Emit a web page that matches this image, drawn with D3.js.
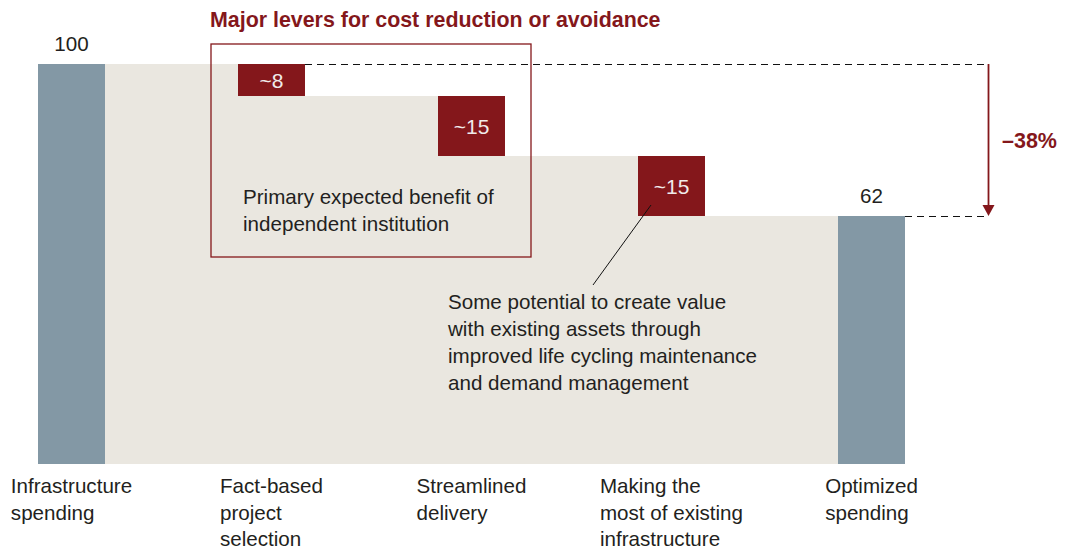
<!DOCTYPE html>
<html><head><meta charset="utf-8">
<script src="https://cdn.jsdelivr.net/npm/d3@7"></script>
<style>
body{margin:0;background:#fff;}
svg text{font-family:"Liberation Sans",Arial,Helvetica,sans-serif;}
</style></head>
<body><svg id="c" width="1071" height="550"></svg>
<script>
const categories = ["Infrastructure spending","Fact-based project selection","Streamlined delivery","Making the most of existing infrastructure","Optimized spending"];
const categoryLines = [["Infrastructure","spending"],["Fact-based","project","selection"],["Streamlined","delivery"],["Making the","most of existing","infrastructure"],["Optimized","spending"]];
const values = [100, -8, -15, -15, 62];
const valueLabels = ["100","~8","~15","~15","62"];
const kinds = ["total","delta","delta","delta","total"];
const title = "Major levers for cost reduction or avoidance";
const changeLabel = "\u201338%";
const boxNote = ["Primary expected benefit of","independent institution"];
const calloutNote = ["Some potential to create value","with existing assets through","improved life cycling maintenance","and demand management"];

const svg = d3.select("#c");
const x = d3.scalePoint().domain(categories).range([71.5, 871.5]);
const y = d3.scaleLinear().domain([0,100]).range([464,64]);
const bw = 67;
const RED = "#84171b", GREY = "#8398a5", BEIGE = "#eae7e0", TXT = "#231f20";
const FS = 20.6;

let level = 0;
const bars = values.map((v,i)=>{
  let top, bottom;
  if(kinds[i]==="total"){ top=v; bottom=0; level=v; }
  else { top=level; bottom=level+v; level=level+v; }
  return {cat:categories[i], v, top, bottom, kind:kinds[i], label:valueLabels[i], lines:categoryLines[i]};
});

const pts = [];
const x0 = x(categories[0])+bw/2, xEnd = x(categories[categories.length-1])-bw/2;
pts.push([x0, y(0)]);
pts.push([x0, y(bars[0].top)]);
bars.forEach((b,i)=>{
  if(b.kind==="delta"){
    const xl = x(b.cat)-bw/2;
    pts.push([xl, y(b.top)]);
    pts.push([xl, y(b.bottom)]);
  }
});
pts.push([xEnd, y(bars[bars.length-1].top)]);
pts.push([xEnd, y(0)]);
svg.append("path").attr("d", d3.line()(pts)+"Z").attr("fill", BEIGE);

svg.selectAll("rect.bar").data(bars).join("rect")
  .attr("x", d=>x(d.cat)-bw/2).attr("width", bw)
  .attr("y", d=>y(d.top)).attr("height", d=>y(d.bottom)-y(d.top))
  .attr("fill", d=>d.kind==="total"?GREY:RED);

bars.forEach(b=>{
  if(b.kind==="total"){
    svg.append("text").attr("x", x(b.cat)).attr("y", y(b.top)-13).attr("text-anchor","middle")
      .attr("font-size",FS).attr("fill",TXT).text(b.label);
  } else {
    svg.append("text").attr("x", x(b.cat)).attr("y", (y(b.top)+y(b.bottom))/2+7.5).attr("text-anchor","middle")
      .attr("font-size",21).attr("fill","#f0eaea").text(b.label);
  }
});

bars.forEach(b=>{
  const g = svg.append("g");
  const t = g.append("text").attr("font-size",FS).attr("fill",TXT);
  b.lines.forEach((ln,j)=>{
    t.append("tspan").attr("x",0).attr("y",493+j*26.7).text(ln);
  });
  let w = 0;
  t.selectAll("tspan").each(function(){ w = Math.max(w, this.getComputedTextLength()); });
  g.attr("transform", `translate(${x(b.cat)-w/2},0)`);
});

const xArrow = 988.5;
svg.append("line").attr("x1", x(categories[1])+bw/2).attr("x2", xArrow)
  .attr("y1", y(100)+0.5).attr("y2", y(100)+0.5).attr("stroke","#111").attr("stroke-width",1.2).attr("stroke-dasharray","7,5");
svg.append("line").attr("x1", xEnd+bw).attr("x2", xArrow)
  .attr("y1", y(values[4])+0.5).attr("y2", y(values[4])+0.5).attr("stroke","#111").attr("stroke-width",1.2).attr("stroke-dasharray","7,5");

svg.append("line").attr("x1",xArrow).attr("x2",xArrow).attr("y1",y(100)).attr("y2",y(values[4])-8)
  .attr("stroke",RED).attr("stroke-width",1.8);
svg.append("path").attr("d",`M${xArrow-6},${y(values[4])-11} L${xArrow+6},${y(values[4])-11} L${xArrow},${y(values[4])} Z`).attr("fill",RED);
svg.append("text").attr("x",1002).attr("y",148).attr("font-size",21.5).attr("font-weight","bold").attr("fill",RED).text(changeLabel);

svg.append("text").attr("x",210).attr("y",27).attr("font-size",21.4).attr("font-weight","bold").attr("fill",RED).text(title);
svg.append("rect").attr("x",211).attr("y",44).attr("width",320).attr("height",213)
  .attr("fill","none").attr("stroke",RED).attr("stroke-width",1.3);
const bt = svg.append("text").attr("font-size",FS).attr("fill",TXT);
boxNote.forEach((ln,j)=>bt.append("tspan").attr("x",243).attr("y",204+j*27).text(ln));

svg.append("line").attr("x1",651).attr("y1",205).attr("x2",593).attr("y2",285).attr("stroke","#111").attr("stroke-width",1);
const ct = svg.append("text").attr("font-size",FS).attr("fill",TXT);
calloutNote.forEach((ln,j)=>ct.append("tspan").attr("x",448).attr("y",309+j*27).text(ln));
</script></body></html>
